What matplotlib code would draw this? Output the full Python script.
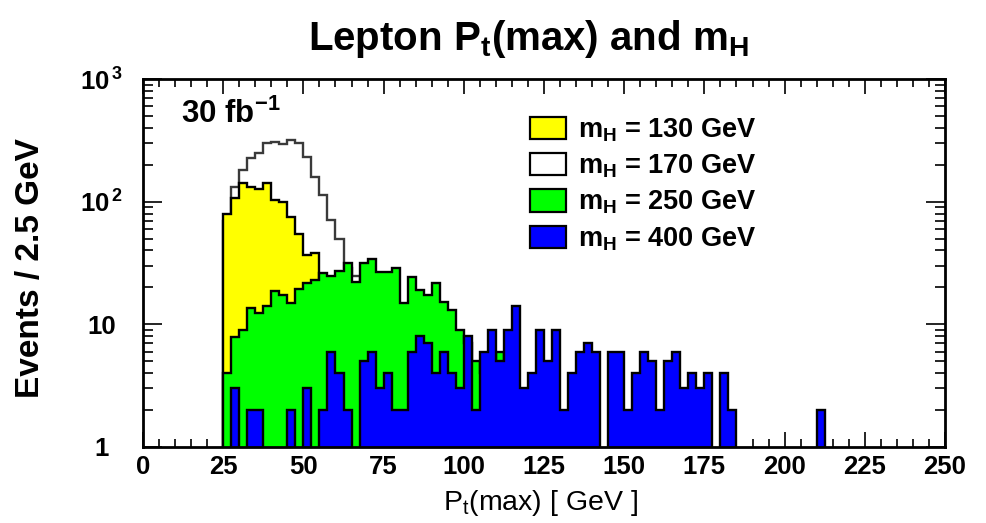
import numpy as np
import matplotlib
matplotlib.use("Agg")
import matplotlib.pyplot as plt
from matplotlib.patches import Patch
from matplotlib.ticker import MultipleLocator, LogLocator, FixedLocator, FixedFormatter, NullFormatter

## Dados (eventos / 2.5 GeV), bins comecando em 25 GeV
bin_w = 2.5
x_first = 25.0
n_bins = 100

mh130 = [80, 108, 141, 132, 128, 143, 104, 100, 75, 55, 37, 38, 20, 15, 10, 9, 9, 4, 3, 2, 1.5, 1.2]
mh170 = [70, 132, 181, 225, 247, 299, 308, 294, 318, 299, 232, 160, 113, 71, 50, 29, 25, 18, 14, 11,
         9, 7, 5, 4, 3, 2.5, 2, 1.5]
mh250 = [4, 7.9, 9, 13.5, 12.3, 14, 18.8, 17.3, 15, 19.3, 21.6, 23, 26, 25, 27, 31.5, 22, 31.4, 34, 26.8,
         26.8, 28.6, 15, 24.5, 19, 17.5, 21.8, 15.2, 13, 9, 7, 5, 4, 5, 6, 3, 2, 1]
mh400 = [0, 3, 0, 2, 2, 0, 0, 0, 2, 0, 3, 0, 2, 6, 4, 2, 0, 5, 6, 3,
         4, 2, 2, 6, 8, 7, 4, 6, 4, 3, 8, 2, 6, 9, 5, 9, 14, 3, 4, 9,
         5, 9, 2, 4, 6, 7, 6, 0, 6, 6, 2, 4, 6, 5, 2, 5, 6, 3, 4, 3,
         4, 0, 4, 2, 0, 0, 0, 0, 0, 0, 0, 0, 0, 0, 2]

labels = ["m$_{\\mathbf{H}}$ = 130 GeV", "m$_{\\mathbf{H}}$ = 170 GeV",
          "m$_{\\mathbf{H}}$ = 250 GeV", "m$_{\\mathbf{H}}$ = 400 GeV"]
cores = ["#ffff00", "#ffffff", "#00ff00", "#0000ff"]

plt.rcParams["font.family"] = ["Liberation Sans", "DejaVu Sans"]
plt.rcParams["mathtext.fontset"] = "custom"
plt.rcParams["mathtext.rm"] = "Liberation Sans"
plt.rcParams["mathtext.bf"] = "Liberation Sans:bold"
plt.rcParams["mathtext.it"] = "Liberation Sans:italic"

edges = x_first + bin_w * np.arange(n_bins + 1)


def preenche(vals):
    # completa com zeros e evita log(0)
    v = np.zeros(n_bins)
    v[:len(vals)] = vals
    return np.where(v > 0, v, 0.05)


fig = plt.figure(figsize=(9.86, 5.23), dpi=100)
ax = fig.add_axes([143 / 986, 1 - 447 / 523, 802 / 986, 368 / 523])
ax.set_yscale("log")

## Ordem de desenho: 170 (branco), 130 (amarelo), 250 (verde), 400 (azul)
ordem = [(mh170, cores[1], "#3a3a3a"), (mh130, cores[0], "black"),
         (mh250, cores[2], "black"), (mh400, cores[3], "black")]
z = 2
for vals, cor, borda in ordem:
    v = preenche(vals)
    ax.stairs(v, edges, fill=True, baseline=0.05, color=cor, zorder=z)
    ax.stairs(v, edges, baseline=0.05, color=borda, lw=1.7, zorder=z + 0.5)
    z += 1

ax.set_xlim(0, 250)
ax.set_ylim(1, 1000)

for s in ax.spines.values():
    s.set_linewidth(2)
    s.set_zorder(20)

ax.xaxis.set_major_locator(MultipleLocator(25))
ax.xaxis.set_minor_locator(MultipleLocator(5))
ax.yaxis.set_major_locator(FixedLocator([1, 10, 100, 1000]))
ax.yaxis.set_major_formatter(FixedFormatter(["1", "10", r"$\mathbf{10^{\,2}}$", r"$\mathbf{10^{\,3}}$"]))
ax.yaxis.set_minor_locator(LogLocator(base=10, subs=np.arange(2, 10)))
ax.yaxis.set_minor_formatter(NullFormatter())

ax.tick_params(which="both", direction="in", top=True, right=True, width=1.2, colors="black")
ax.tick_params(axis="x", which="major", length=11, labelsize=18.5, pad=6)
ax.tick_params(axis="x", which="minor", length=6)
ax.tick_params(axis="y", which="major", length=14, labelsize=18.5, pad=30)
ax.tick_params(axis="y", which="minor", length=7)
for t in ax.get_xticklabels() + ax.get_yticklabels():
    t.set_fontweight("bold")
for t in ax.get_yticklabels():
    t.set_horizontalalignment("center")

fig.text(528 / 986, 1 - 50 / 523, r"Lepton P$_{\mathbf{t}}$(max) and m$_{\mathbf{H}}$",
         ha="center", va="baseline", fontsize=29, fontweight="bold")
fig.text(31 / 986, 1 - 268 / 523, "Events / 2.5 GeV", rotation=90, ha="center", va="center",
         fontsize=24, fontweight="bold")
fig.text(540 / 986, 1 - 510 / 523, r"P$_{\mathrm{t}}$(max) [ GeV ]", ha="center", va="baseline",
         fontsize=20.5)
ax.text(0.048, 0.88, r"30 fb$^{\mathbf{-1}}$", transform=ax.transAxes, fontsize=22.5,
        fontweight="bold", va="baseline")

handles = [Patch(facecolor=c, edgecolor="black", lw=1.6) for c in cores]
leg = ax.legend(handles, labels, loc="upper left", bbox_to_anchor=(0.482, 0.898),
                frameon=False, fontsize=19.5, handlelength=1.33, handleheight=0.88,
                handletextpad=0.45, labelspacing=0.32, borderpad=0, borderaxespad=0)
for t in leg.get_texts():
    t.set_fontweight("bold")
leg.set_zorder(30)

fig.savefig("out.png", dpi=100)
